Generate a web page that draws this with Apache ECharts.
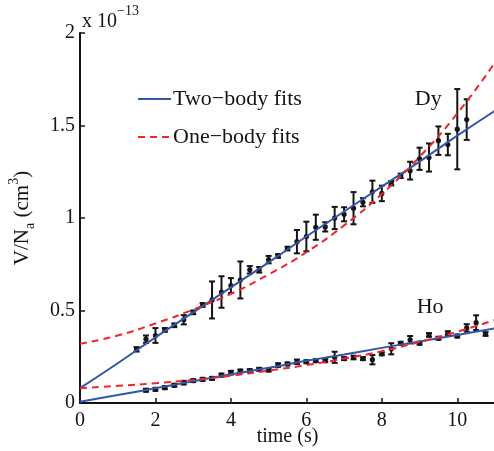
<!DOCTYPE html>
<html><head><meta charset="utf-8">
<script src="https://cdn.jsdelivr.net/npm/echarts@6/dist/echarts.min.js"></script>
<style>html,body{margin:0;padding:0;background:#fff}#c{width:494px;height:451px}</style>
</head><body><div id="c"></div>
<script>
// Dy measurements (volume / atom number, in units of 1e-13 cm^3)
const dyTime  = [1.5,1.75,2.0,2.25,2.5,2.75,3.0,3.25,3.5,3.75,4.0,4.25,4.5,4.75,5.0,5.25,5.5,5.75,6.0,6.25,6.5,6.75,7.0,7.25,7.5,7.75,8.0,8.25,8.5,8.75,9.0,9.25,9.5,9.75,10.0,10.25];
const dyValue = [0.29,0.345,0.365,0.395,0.42,0.45,0.49,0.53,0.557,0.60,0.635,0.665,0.72,0.72,0.775,0.795,0.835,0.872,0.90,0.95,0.952,1.0,1.02,1.053,1.085,1.142,1.133,1.188,1.228,1.256,1.32,1.327,1.418,1.397,1.48,1.532];
const dyError = [0.012,0.02,0.04,0.01,0.01,0.025,0.01,0.01,0.10,0.085,0.04,0.10,0.02,0.015,0.02,0.01,0.01,0.063,0.08,0.068,0.025,0.06,0.038,0.087,0.022,0.06,0.042,0.012,0.012,0.048,0.06,0.076,0.077,0.058,0.217,0.11];
// Ho measurements
const hoTime  = [1.75,2.0,2.25,2.5,2.75,3.0,3.25,3.5,3.75,4.0,4.25,4.5,4.75,5.0,5.25,5.5,5.75,6.0,6.25,6.5,6.75,7.0,7.25,7.5,7.75,8.0,8.25,8.5,8.75,9.0,9.25,9.5,9.75,10.0,10.25,10.5,10.75];
const hoValue = [0.069,0.074,0.083,0.096,0.11,0.121,0.128,0.133,0.151,0.164,0.173,0.175,0.182,0.178,0.205,0.211,0.223,0.223,0.229,0.229,0.247,0.24,0.246,0.24,0.234,0.266,0.293,0.323,0.342,0.323,0.368,0.35,0.378,0.362,0.406,0.434,0.373];
const hoError = [0.008,0.008,0.008,0.008,0.01,0.008,0.008,0.008,0.008,0.01,0.008,0.008,0.008,0.008,0.01,0.008,0.012,0.008,0.008,0.008,0.03,0.008,0.01,0.008,0.025,0.008,0.03,0.008,0.02,0.008,0.01,0.008,0.01,0.008,0.02,0.04,0.01];
// Fit curves
const fitTime   = [0,1,2,3,4,5,6,7,8,9,10,11];
const dyTwoBody = [0.08,0.215,0.355,0.49,0.625,0.76,0.90,1.035,1.17,1.305,1.445,1.58];
const dyOneBody = [0.32,0.365,0.43,0.505,0.59,0.695,0.815,0.96,1.13,1.33,1.565,1.84];
const hoTwoBody = [0.007,0.043,0.08,0.118,0.155,0.19,0.228,0.262,0.298,0.333,0.368,0.404];
const hoOneBody = [0.08,0.093,0.107,0.125,0.147,0.175,0.205,0.24,0.28,0.33,0.385,0.449];
const xTicks = [0,2,4,6,8,10];
const yTicks = [0,0.5,1,1.5,2];
const seriesNames = ['Two\u2212body fits','One\u2212body fits'];
const labelNames = ['Dy','Ho'];
const labelPos = [[9.23,1.643],[9.28,0.52]];

const SERIF = '"Liberation Serif","DejaVu Serif",serif';
const BLUE = '#3455a8';
const RED = '#f0262c';
const INK = '#141414';

function pairs(xs, ys){ return xs.map((x,i)=>[x, ys[i]]); }
function triples(xs, ys, es){ return xs.map((x,i)=>[x, ys[i], es[i]]); }

function errRender(capHalf){
  return function(params, api){
    const t = api.value(0), v = api.value(1), e = api.value(2);
    const top = api.coord([t, v + e]);
    const bot = api.coord([t, v - e]);
    const mid = api.coord([t, v]);
    const st = {stroke: INK, lineWidth: 2};
    return {type:'group', children:[
      {type:'line', shape:{x1:top[0],y1:top[1],x2:bot[0],y2:bot[1]}, style:st},
      {type:'line', shape:{x1:top[0]-capHalf,y1:top[1],x2:top[0]+capHalf,y2:top[1]}, style:st},
      {type:'line', shape:{x1:bot[0]-capHalf,y1:bot[1],x2:bot[0]+capHalf,y2:bot[1]}, style:st},
      {type:'circle', shape:{cx:mid[0],cy:mid[1],r:2.6}, style:{fill:INK}}
    ]};
  };
}

const chart = echarts.init(document.getElementById('c'), null, {renderer:'canvas'});
chart.setOption({
  animation:false,
  backgroundColor:'#fff',
  grid:{left:80, right:-1, top:33, bottom:48, containLabel:false, outerBoundsMode:'none'},
  xAxis:{
    type:'value', min:0, max:11,
    name:'time (s)', nameLocation:'middle', nameGap:24, nameMoveOverlap:false,
    nameTextStyle:{fontFamily:SERIF, fontSize:20, color:INK},
    axisLine:{lineStyle:{color:INK, width:2}},
    axisTick:{inside:true, length:5, lineStyle:{color:INK, width:1.5}, customValues:xTicks},
    axisLabel:{fontFamily:SERIF, fontSize:20, color:INK, margin:8, customValues:xTicks},
    splitLine:{show:false}
  },
  yAxis:{
    type:'value', min:0, max:2, interval:0.5,
    axisLine:{show:true, lineStyle:{color:INK, width:2}},
    axisTick:{show:true, inside:true, length:5, lineStyle:{color:INK, width:1.5}, customValues:yTicks},
    axisLabel:{fontFamily:SERIF, fontSize:20, color:INK, margin:5, customValues:yTicks},
    splitLine:{show:false}
  },
  legend:{
    left:132, top:83, orient:'vertical', itemWidth:33, itemHeight:14, itemGap:16,
    data:seriesNames,
    itemStyle:{color:'transparent', borderWidth:0, opacity:0},
    textStyle:{fontFamily:SERIF, fontSize:22, color:INK, padding:[0,0,0,-3]},
    selectedMode:false
  },
  graphic:[
    {type:'text', left:82, top:4, style:{
      text:'{n|x 10}{s|\u221213}',
      rich:{n:{fontFamily:SERIF, fontSize:20, fill:INK, lineHeight:28, verticalAlign:'bottom'},
            s:{fontFamily:SERIF, fontSize:14, fill:INK, lineHeight:14, verticalAlign:'top'}}
    }},
    {type:'text', x:22, y:218, rotation:Math.PI/2, style:{
      text:'{n|V/N}{b|a}{n| (cm}{p|3}{n|)}', align:'center', verticalAlign:'middle',
      rich:{n:{fontFamily:SERIF, fontSize:21, fill:INK, lineHeight:30},
            b:{fontFamily:SERIF, fontSize:14, fill:INK, lineHeight:14, verticalAlign:'bottom'},
            p:{fontFamily:SERIF, fontSize:14, fill:INK, lineHeight:14, verticalAlign:'top'}}
    }}
  ],
  series:[
    {type:'custom', name:'Dy data', z:2, renderItem:errRender(3), encode:{x:0,y:1}, data:triples(dyTime,dyValue,dyError), clip:false,
     markPoint:{symbolSize:0, label:{show:true, position:'inside', fontFamily:SERIF, fontSize:22, color:INK, formatter:labelNames[0]},
       data:[{coord:labelPos[0]}]}},
    {type:'custom', name:'Ho data', z:2, renderItem:errRender(3), encode:{x:0,y:1}, data:triples(hoTime,hoValue,hoError), clip:false,
     markPoint:{symbolSize:0, label:{show:true, position:'inside', fontFamily:SERIF, fontSize:22, color:INK, formatter:labelNames[1]},
       data:[{coord:labelPos[1]}]}},
    {type:'line', name:seriesNames[0], z:3, smooth:true, symbol:'none', data:pairs(fitTime,dyTwoBody), lineStyle:{color:BLUE, width:2}, itemStyle:{color:BLUE}},
    {type:'line', name:seriesNames[1], z:3, smooth:true, symbol:'none', data:pairs(fitTime,dyOneBody), lineStyle:{color:RED, width:2, type:[7,5]}, itemStyle:{color:RED}},
    {type:'line', name:seriesNames[0], z:3, smooth:true, symbol:'none', data:pairs(fitTime,hoTwoBody), lineStyle:{color:BLUE, width:2}, itemStyle:{color:BLUE}},
    {type:'line', name:seriesNames[1], z:3, smooth:true, symbol:'none', data:pairs(fitTime,hoOneBody), lineStyle:{color:RED, width:2, type:[7,5]}, itemStyle:{color:RED}}
  ]
});
</script></body></html>
